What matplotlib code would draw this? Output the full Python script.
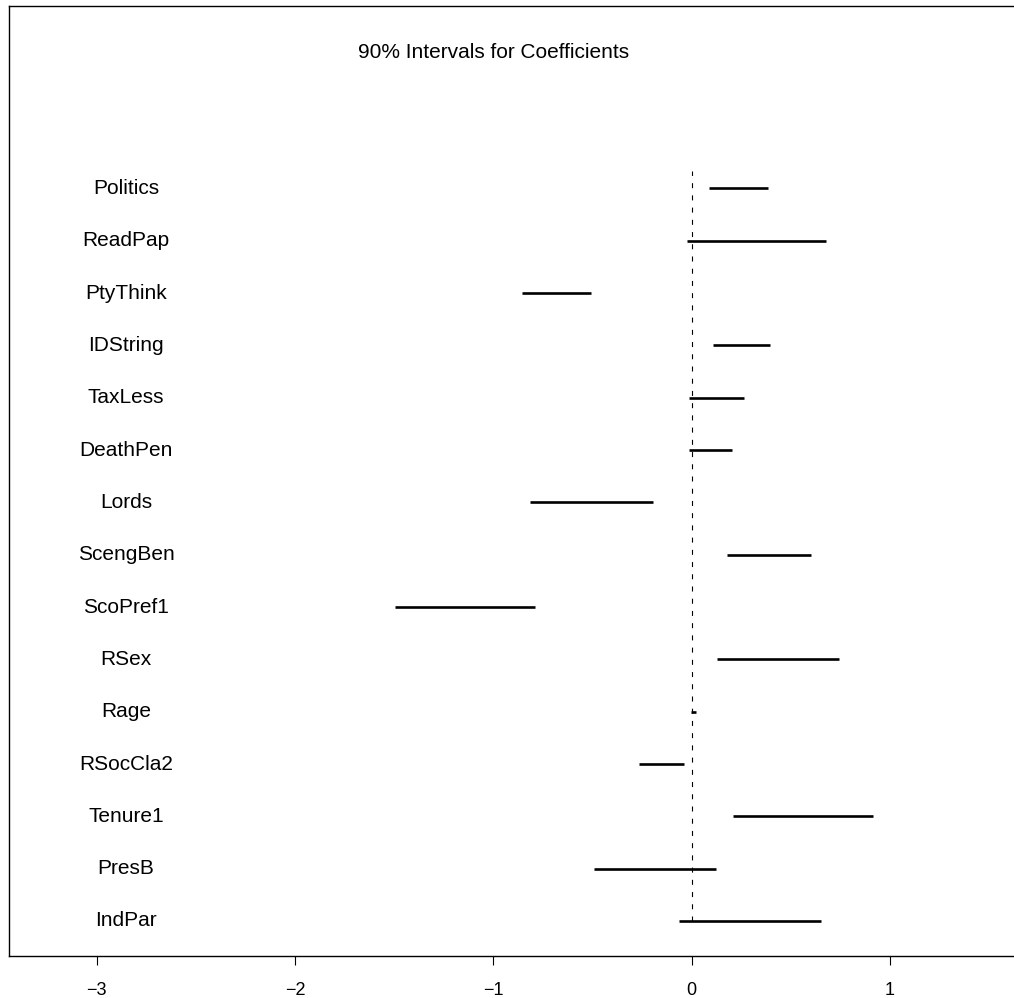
import matplotlib
matplotlib.use("Agg")
import matplotlib.pyplot as plt

plt.rcParams['font.family'] = ['Liberation Sans', 'DejaVu Sans']

# Data (top to bottom as displayed)
variables = ["Politics", "ReadPap", "PtyThink", "IDString", "TaxLess", "DeathPen",
             "Lords", "ScengBen", "ScoPref1", "RSex", "Rage", "RSocCla2",
             "Tenure1", "PresB", "IndPar"]
lower = [0.087, -0.024, -0.854, 0.107, -0.014, -0.014,
         -0.814, 0.176, -1.496, 0.126, -0.002, -0.264,
         0.207, -0.494, -0.063]
upper = [0.383, 0.676, -0.508, 0.393, 0.264, 0.203,
         -0.197, 0.603, -0.789, 0.744, 0.024, -0.037,
         0.914, 0.123, 0.652]
xticks = [-3, -2, -1, 0, 1]
title = "90% Intervals for Coefficients"

W, H = 1014, 998
fig = plt.figure(figsize=(W / 100, H / 100), dpi=100)
left_px, right_px, top_px, bottom_px = 8.7, 1024, 6.5, 956
ax = fig.add_axes([left_px / W, 1 - bottom_px / H,
                   (right_px - left_px) / W, (bottom_px - top_px) / H])

n = len(variables)
ypos = list(range(n, 0, -1))

ax.set_xlim(-3.444, 1.676)
ax.set_ylim(0.331, 18.476)

ax.plot([0, 0], [1, 15.34], color='black', lw=0.8, linestyle=(0, (4.5, 6.5)))

for y, lo, hi, name in zip(ypos, lower, upper, variables):
    ax.plot([lo, hi], [y, y], color='black', lw=1.9, solid_capstyle='butt')
    ax.text(-2.852, y, name, ha='center', va='center', fontsize=15)

ax.text(-1.0, 17.6, title, ha='center', va='center', fontsize=15)

ax.set_xticks(xticks)
ax.set_xticklabels([("\u2212" + str(abs(t))) if t < 0 else str(t) for t in xticks],
                   fontsize=13)
ax.set_yticks([])
ax.tick_params(axis='x', direction='out', length=6.5, width=0.8, pad=12)
for s in ['left', 'top', 'bottom']:
    ax.spines[s].set_linewidth(1.0)
ax.spines['right'].set_visible(False)

fig.savefig("out.png", dpi=100)
